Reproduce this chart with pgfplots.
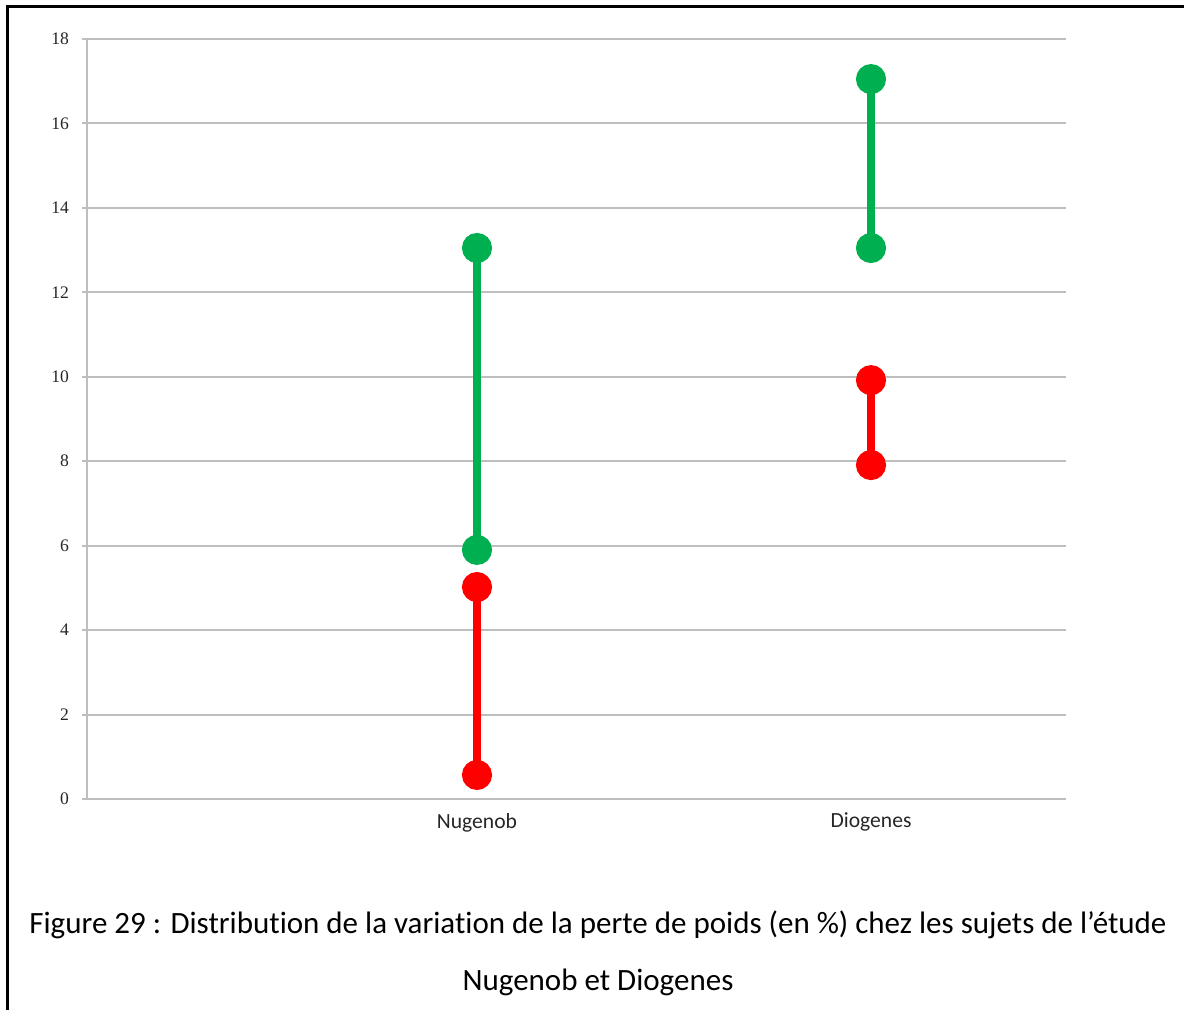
\documentclass[border=0pt]{standalone}
\usepackage{pgfplots}
\pgfplotsset{compat=1.18}
\usepackage{fontspec}
\setmainfont[Ligatures=NoCommon]{Carlito}
\newfontfamily\tickfont{Liberation Serif}
\definecolor{xgreen}{RGB}{0,176,80}
\definecolor{xred}{RGB}{255,0,0}
\definecolor{gridgray}{RGB}{190,190,190}
\begin{document}
\begin{tikzpicture}[x=0.5pt,y=0.5pt]
\useasboundingbox (-87,-210) rectangle (1097,799);
% partial frame (left and top)
\draw[black,line width=1.5pt] (-79,-212) -- (-79,792) -- (1099,792);
\begin{axis}[
  at={(0,0)}, anchor=origin,
  scale only axis,
  width=489.5pt, height=380pt,
  xmin=0.0102, xmax=2.4949,
  ymin=0, ymax=18,
  xtick={1,2},
  xticklabels={Nugenob,Diogenes},
  ytick={0,2,...,18},
  ymajorgrids,
  grid style={gridgray,line width=1pt},
  axis x line*=bottom,
  axis y line*=left,
  axis line style={gridgray,line width=1pt,-},
  major x tick style={draw=none},
  major y tick style={gridgray,line width=1pt},
  tick align=outside,
  major tick length=2.5pt,
  yticklabel style={font=\tickfont\fontsize{8.8}{10}\selectfont,text=black!85,xshift=-3pt},
  xticklabel style={font=\fontsize{10.8}{12}\selectfont,text=black!85,yshift=-1pt},
  /pgf/number format/assume math mode=true,
  clip=false,
]
\addplot[xgreen,line width=4.4pt,mark=*,mark size=5.3pt] coordinates {(1,5.9) (1,13.05)};
\addplot[xred,line width=4.4pt,mark=*,mark size=5.3pt] coordinates {(1,0.57) (1,5.02)};
\addplot[xgreen,line width=4.4pt,mark=*,mark size=5.3pt] coordinates {(2,13.05) (2,17.05)};
\addplot[xred,line width=4.4pt,mark=*,mark size=5.3pt] coordinates {(2,7.91) (2,9.92)};
\end{axis}
\node[font=\fontsize{15.5}{18}\selectfont] at (511,-126) {Figure 29 : Distribution de la variation de la perte de poids (en \%) chez les sujets de l’étude};
\node[font=\fontsize{15.5}{18}\selectfont] at (511,-183) {Nugenob et Diogenes};
\end{tikzpicture}
\end{document}
